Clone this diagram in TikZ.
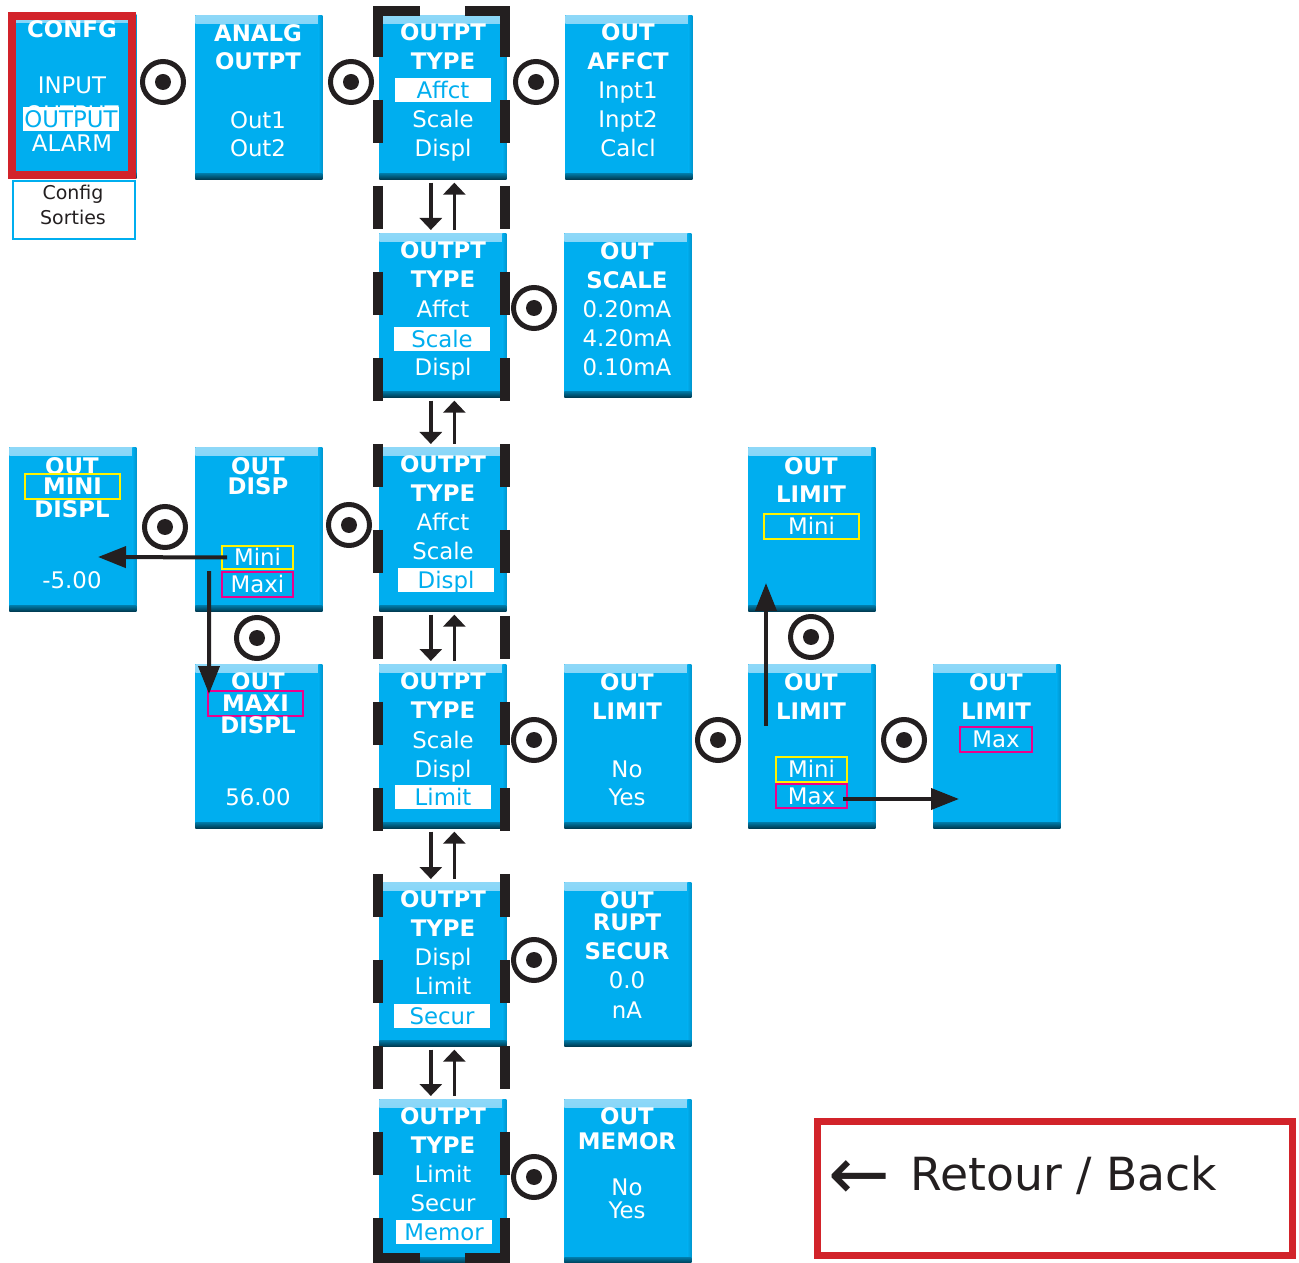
\documentclass[tikz,border=0pt]{standalone}
\usepackage{fontspec}
\setmainfont{DejaVu Sans}
\usetikzlibrary{arrows.meta}
\definecolor{boxblue}{HTML}{00AEEF}
\definecolor{boxlight}{HTML}{8ED8F8}
\definecolor{boxdark}{HTML}{003A50}
\definecolor{markyellow}{HTML}{FFF200}
\definecolor{markpink}{HTML}{EC008C}
\definecolor{backred}{HTML}{D2232A}
\definecolor{inkblack}{HTML}{231F20}

\tikzset{
  screen/.style={rectangle, fill=boxblue, inner sep=0pt, minimum width=2.54cm, minimum height=3.28cm, anchor=north west,
    path picture={
      \shade[top color=boxlight, bottom color=boxblue] (path picture bounding box.north west) rectangle ([yshift=-0.16cm]path picture bounding box.north east);
      \shade[left color=boxblue, right color=boxblue!80!boxdark] ([xshift=-0.08cm]path picture bounding box.north east) rectangle (path picture bounding box.south east);
      \shade[top color=boxblue!55!boxdark, bottom color=boxdark] ([yshift=0.12cm]path picture bounding box.south west) rectangle (path picture bounding box.south east);
    }},
  hd/.style={font=\fontsize{13}{16}\selectfont\bfseries, text=white, inner sep=0pt, text height=9.5pt, text depth=0pt},
  tx/.style={hd, font=\fontsize{13}{16}\selectfont},
  sel/.style={tx, fill=white, text=boxblue, minimum width=1.94cm, minimum height=0.48cm},
  ymark/.style={tx, draw=markyellow, line width=0.04cm, minimum height=0.48cm},
  pmark/.style={tx, draw=markpink, line width=0.04cm, minimum height=0.48cm},
  push/.style={circle, draw=inkblack, line width=0.1cm, minimum size=0.82cm, inner sep=0pt,
    path picture={\fill[inkblack] (path picture bounding box.center) circle (0.16cm);}},
  updown/.style={draw=inkblack, line width=0.07cm, -{Triangle[length=0.24cm, width=0.44cm]}, shorten <=0.06cm, shorten >=0.06cm},
  bigarrow/.style={draw=inkblack, line width=0.08cm, -{Triangle[length=0.56cm, width=0.42cm]}}
}

\begin{document}
\begin{tikzpicture}[x=0.02cm, y=-0.02cm]
  \useasboundingbox (0,0) rectangle (1299,1263);

  % menu entry
  \node[screen] (conf) at (9,14) {};
  \node[hd] (confT) at (72,29) {CONFG};
  \node[tx] (confI) at (72,85) {INPUT};
  \node[tx] (confH) at (72,114) {OUTPUT};
  \node[sel] (confO) at (71,119) {OUTPUT};
  \node[tx] (confA) at (72,143) {ALARM};
  \draw[backred, line width=0.16cm] ([shift={(3,2)}]conf.north west) rectangle ([shift={(-5,-4)}]conf.south east);
  \node[draw=boxblue, line width=0.04cm, minimum width=2.44cm, minimum height=1.16cm, inner sep=0pt, anchor=north west] (confS) at (12,180) {};
  \node[align=center, font=\fontsize{10.8}{14.2}\selectfont, text=inkblack, inner sep=0pt] (confL) at (73,205) {Config\\Sorties};

  \node[screen] (analog) at (195,15) {};
  \node[hd] (analogA) at (258,33) {ANALG};
  \node[hd] (analogB) at (258,61) {OUTPT};
  \node[tx] (analogC) at (258,120) {Out1};
  \node[tx] (analogD) at (258,148) {Out2};

  % output type column
  \foreach \y [count=\i] in {15,233,447,664,882,1099} {
    \node[screen] (t\i) at (379,\y) {};
    \node[hd] (t\i a) at (443,\y+17.5) {OUTPT};
    \node[hd] (t\i b) at (443,\y+46.5) {TYPE};
  }
  \node[sel] (t1s) at (443,90) {Affct};
  \node[tx] (t1c) at (443,119) {Scale};
  \node[tx] (t1d) at (443,148) {Displ};
  \node[tx] (t2c) at (443,309) {Affct};
  \node[sel] (t2s) at (442,339) {Scale};
  \node[tx] (t2d) at (443,367) {Displ};
  \node[tx] (t3c) at (443,522) {Affct};
  \node[tx] (t3d) at (443,551) {Scale};
  \node[sel] (t3s) at (446,580) {Displ};
  \node[tx] (t4c) at (443,740) {Scale};
  \node[tx] (t4d) at (443,769) {Displ};
  \node[sel] (t4s) at (443,797) {Limit};
  \node[tx] (t5c) at (443,957) {Displ};
  \node[tx] (t5d) at (443,986) {Limit};
  \node[sel] (t5s) at (442,1016) {Secur};
  \node[tx] (t6c) at (443,1174) {Limit};
  \node[tx] (t6d) at (443,1203) {Secur};
  \node[sel] (t6s) at (444,1232) {Memor};

  % settings column
  \node[screen] (affect) at (565,15) {};
  \node[hd] (affectA) at (628,32) {OUT};
  \node[hd] (affectB) at (628,61) {AFFCT};
  \node[tx] (affectC) at (628,90) {Inpt1};
  \node[tx] (affectD) at (628,119) {Inpt2};
  \node[tx] (affectE) at (628,148) {Calcl};

  \node[screen] (scale) at (564,233) {};
  \node[hd] (scaleA) at (627,251) {OUT};
  \node[hd] (scaleB) at (627,280) {SCALE};
  \node[tx] (scaleC) at (627,309) {0.20mA};
  \node[tx] (scaleD) at (627,338) {4.20mA};
  \node[tx] (scaleE) at (627,367) {0.10mA};

  \node[screen] (limit) at (564,664) {};
  \node[hd] (limitA) at (627,682) {OUT};
  \node[hd] (limitB) at (627,711) {LIMIT};
  \node[tx] (limitC) at (627,769) {No};
  \node[tx] (limitD) at (627,797) {Yes};

  \node[screen] (secur) at (564,882) {};
  \node[hd] (securA) at (627,900) {OUT};
  \node[hd] (securB) at (627,922) {RUPT};
  \node[hd] (securC) at (627,951) {SECUR};
  \node[tx] (securD) at (627,980) {0.0};
  \node[tx] (securE) at (627,1010) {nA};

  \node[screen] (memor) at (564,1099) {};
  \node[hd] (memorA) at (627,1116) {OUT};
  \node[hd] (memorB) at (627,1141) {MEMOR};
  \node[tx] (memorC) at (627,1187) {No};
  \node[tx] (memorD) at (627,1210) {Yes};

  % display min / max
  \node[screen] (minid) at (9,447) {};
  \node[hd] (minidA) at (72,466) {OUT};
  \node[hd, draw=markyellow, line width=0.04cm, minimum width=1.9cm, minimum height=0.5cm] (mmini) at (72.5,486.5) {MINI};
  \node[hd] (minidC) at (72,509) {DISPL};
  \node[tx] (minidD) at (72,580) {-5.00};

  \node[screen] (disp) at (195,447) {};
  \node[hd] (dispA) at (258,466) {OUT};
  \node[hd] (dispB) at (258,486) {DISP};
  \node[ymark, minimum width=1.42cm, minimum height=0.46cm] (dmini) at (257.5,557.5) {Mini};
  \node[pmark, minimum width=1.42cm, minimum height=0.5cm] (dmaxi) at (257.5,584.5) {Maxi};

  \node[screen] (maxid) at (195,664) {};
  \node[hd] (maxidA) at (258,681) {OUT};
  \node[hd, draw=markpink, line width=0.04cm, minimum width=1.9cm, minimum height=0.5cm] (mmaxi) at (255.5,703.5) {MAXI};
  \node[hd] (maxidC) at (258,725) {DISPL};
  \node[tx] (maxidD) at (258,797) {56.00};

  % limit min / max
  \node[screen] (lmin) at (748,447) {};
  \node[hd] (lminA) at (811,466) {OUT};
  \node[hd] (lminB) at (811,494) {LIMIT};
  \node[ymark, minimum width=1.9cm, minimum height=0.5cm] (lminf) at (811.5,526.5) {Mini};

  \node[screen] (lsel) at (748,664) {};
  \node[hd] (lselA) at (811,682) {OUT};
  \node[hd] (lselB) at (811,711) {LIMIT};
  \node[ymark, minimum width=1.42cm, minimum height=0.5cm] (lmini) at (811.5,769.5) {Mini};
  \node[pmark, minimum width=1.42cm, minimum height=0.48cm] (lmax) at (811.5,796) {Max};

  \node[screen] (lmaxb) at (933,664) {};
  \node[hd] (lmaxbA) at (996,682) {OUT};
  \node[hd] (lmaxbB) at (996,711) {LIMIT};
  \node[pmark, minimum width=1.44cm, minimum height=0.5cm] (lmaxf) at (996,739.5) {Max};

  % push buttons
  \foreach \x/\y [count=\i] in {163/82, 351/82, 536/82, 534/308, 165/527, 349/525, 257/638,
                                534/740, 718/740, 811/637, 904/740, 534/960, 534/1177}
    \node[push] (ok\i) at (\x,\y) {};

  % dashed frame round the type list
  \draw[inkblack, line width=0.2cm, dash pattern=on 0.86cm off 0.86cm] (378,14) -- (378,1261) (505,14) -- (505,1261);
  \draw[inkblack, line width=0.2cm, dash pattern=on 0.94cm off 0.9cm] (373,11) -- (510,11) (373,1258) -- (510,1258);

  % scroll arrows
  \foreach \a/\b in {t1/t2, t2/t3, t3/t4, t4/t5, t5/t6} {
    \draw[updown] ([xshift=-0.24cm]\a.south) -- ([xshift=-0.24cm]\b.north);
    \draw[updown] ([xshift=0.23cm]\b.north) -- ([xshift=0.23cm]\a.south);
  }

  % jumps
  \coordinate (minitip) at (98,557);
  \coordinate (limstart) at (766,726);
  \coordinate (limtip) at (766,583);
  \coordinate (maxtip) at (959,799);
  \draw[bigarrow] ([xshift=0.12cm]dmini.west) -- (minitip);
  \draw[bigarrow] ([xshift=-0.24cm]dmaxi.north west) -- ([shift={(2,4)}]mmaxi.north west);
  \draw[bigarrow] (limstart) -- (limtip);
  \draw[bigarrow] ([shift={(-5,3)}]lmax.east) -- (maxtip);

  % legend
  \node[draw=backred, line width=0.14cm, minimum width=9.5cm, minimum height=2.68cm, inner sep=0pt, anchor=north west] (back) at (814,1118) {};
  \node[font=\fontsize{42}{46}\selectfont, text=inkblack, inner sep=0pt] (backA) at (859,1180) {←};
  \node[font=\fontsize{26}{30}\selectfont, text=inkblack, inner sep=0pt, text height=19pt, text depth=0pt] (backT) at (1064,1174) {Retour / Back};
\end{tikzpicture}
\end{document}
